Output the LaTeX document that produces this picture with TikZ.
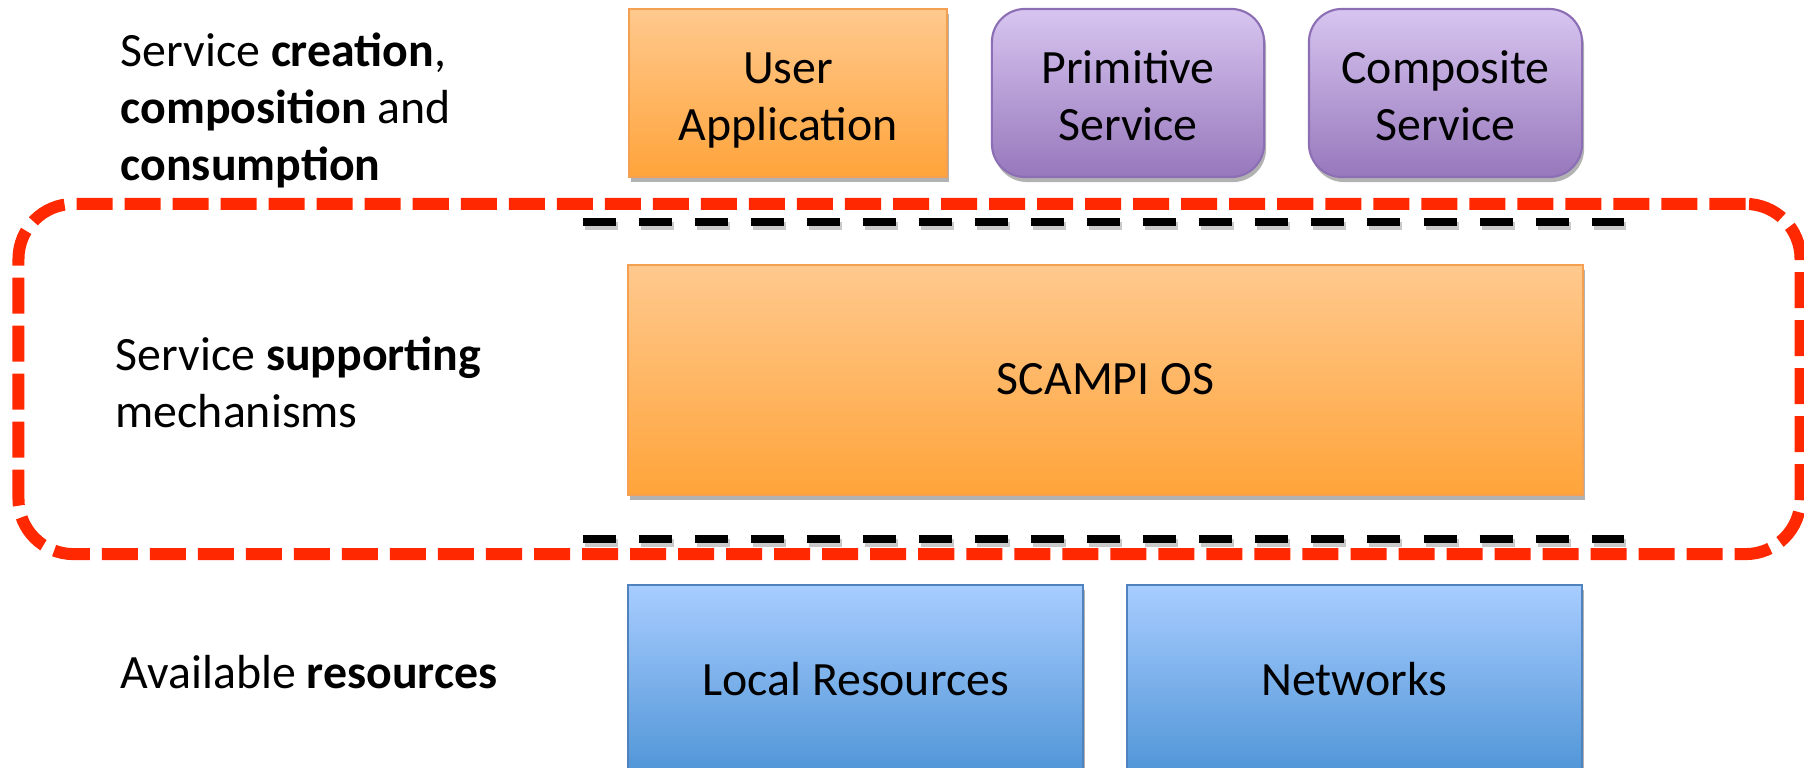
\documentclass[tikz,border=0pt]{standalone}
\usepackage{fontspec}
\setmainfont{Carlito}
\usetikzlibrary{shadows}
\definecolor{orTop}{RGB}{255,201,142}
\definecolor{orBot}{RGB}{255,164,58}
\definecolor{orLine}{RGB}{245,160,80}
\definecolor{puTop}{RGB}{215,197,240}
\definecolor{puBot}{RGB}{151,120,188}
\definecolor{puLine}{RGB}{140,110,180}
\definecolor{blTop}{RGB}{168,205,255}
\definecolor{blBot}{RGB}{78,148,214}
\definecolor{blLine}{RGB}{80,130,190}
\definecolor{redDash}{RGB}{255,40,0}
\tikzset{
  lbl/.style={font=\fontsize{13.6}{16.1}\selectfont, align=left, inner sep=0pt},
  boxtxt/.style={font=\fontsize{13.6}{16.1}\selectfont, align=center, inner sep=0pt},
  shad/.style={drop shadow={shadow xshift=0.02cm, shadow yshift=-0.05cm, fill=black, opacity=0.3}},
  orbox/.style={shad, draw=orLine, line width=0.6pt, top color=orTop, bottom color=orBot, inner sep=0pt},
  pubox/.style={shad, draw=puLine, line width=0.6pt, top color=puTop, bottom color=puBot, rounded corners=0.33cm, inner sep=0pt},
  blbox/.style={shad, draw=blLine, line width=0.6pt, top color=blTop, bottom color=blBot, inner sep=0pt},
  reddash/.style={draw=redDash, line width=0.12cm, dash pattern=on 0.36cm off 0.12cm, rounded corners=0.55cm},
  blackdash/.style={draw=black, line width=0.08cm, dash pattern=on 0.33cm off 0.23cm},
  blackshadow/.style={draw=black!35, line width=0.08cm, dash pattern=on 0.33cm off 0.23cm, opacity=0.6}
}
\begin{document}
\begin{tikzpicture}[x=0.01cm,y=-0.01cm]
\clip (0,0) rectangle (1804,767);
\fill[white] (0,0) rectangle (1804,767);

% top row
\node[orbox, minimum width=3.18cm, minimum height=1.68cm] (ua) at (788,93) {};
\node[pubox, minimum width=2.72cm, minimum height=1.68cm] (ps) at (1128,93) {};
\node[pubox, minimum width=2.73cm, minimum height=1.68cm] (cs) at (1445.5,93) {};
\node[boxtxt, anchor=base] (uat) at (788,140) {User\\Application};
\node[boxtxt, anchor=base] (pst) at (1128,140) {Primitive\\Service};
\node[boxtxt, anchor=base] (cst) at (1445.5,140) {Composite\\Service};

% red group
\node[reddash, minimum width=17.81cm, minimum height=3.50cm, inner sep=0pt] (grp) at (909.5,379) {};

% black dashed separators
\coordinate (t1) at (583,222);
\coordinate (t2) at (1624,222);
\coordinate (b1) at (583,539);
\coordinate (b2) at (1624,539);
\coordinate (t1s) at (585,226);
\coordinate (t2s) at (1626,226);
\coordinate (b1s) at (585,543);
\coordinate (b2s) at (1626,543);
\draw[blackshadow] (t1s) -- (t2s);
\draw[blackshadow] (b1s) -- (b2s);
\draw[blackdash] (t1) -- (t2);
\draw[blackdash] (b1) -- (b2);

% middle
\node[orbox, minimum width=9.55cm, minimum height=2.30cm] (os) at (1105.5,380) {};
\node[boxtxt, anchor=base] (ost) at (1105.5,394) {SCAMPI OS};

% bottom
\node[blbox, minimum width=4.55cm, minimum height=1.92cm] (lr) at (855.5,681) {};
\node[blbox, minimum width=4.55cm, minimum height=1.92cm] (nw) at (1354.5,681) {};
\node[boxtxt, anchor=base] (lrt) at (855.5,695) {Local Resources};
\node[boxtxt, anchor=base] (nwt) at (1354.5,695) {Networks};

% left labels (base anchor = last line baseline)
\node[lbl, anchor=base west] (l1) at (120,180) {Service \textbf{creation},\\\textbf{composition} and\\\textbf{consumption}};
\node[lbl, anchor=base west] (l2) at (115,427) {Service \textbf{supporting}\\mechanisms};
\node[lbl, anchor=base west] (l3) at (120,688) {Available \textbf{resources}};
\end{tikzpicture}
\end{document}
